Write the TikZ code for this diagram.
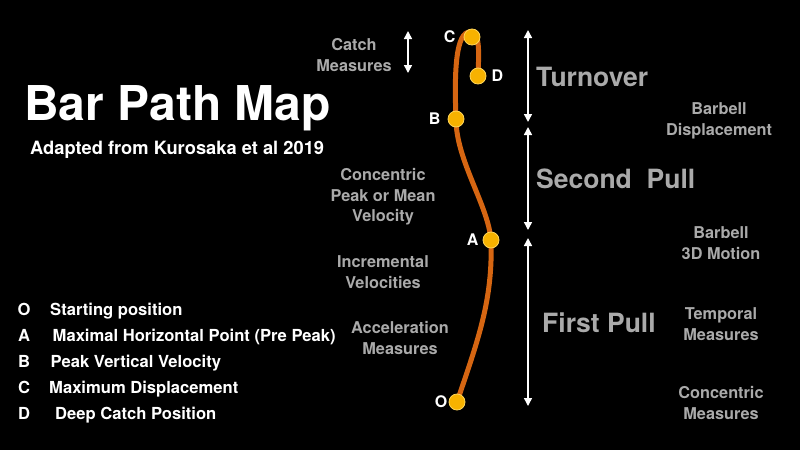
\documentclass[tikz,border=0pt]{standalone}
\usepackage{fontspec}
\setmainfont{TeX Gyre Heros}
\usetikzlibrary{arrows.meta,positioning}
\definecolor{barline}{RGB}{214,102,18}
\definecolor{dotfill}{RGB}{247,178,0}
\definecolor{dotrim}{RGB}{255,214,90}
\definecolor{metricgray}{RGB}{170,170,170}
\tikzset{
    pathdot/.style={circle,fill=dotfill,draw=dotrim,line width=0.8pt,minimum size=16pt,inner sep=0pt},
    ptlabel/.style={text=white,inner sep=0pt,font=\bfseries\fontsize{16}{16}\selectfont},
    metric/.style={text=metricgray,inner sep=0pt,align=center,font=\bfseries\fontsize{16.3}{20.5}\selectfont},
    phase/.style={text=metricgray,inner sep=0pt,anchor=base west,font=\bfseries\fontsize{26.5}{26.5}\selectfont},
    keyletter/.style={text=white,inner sep=0pt,anchor=base,font=\bfseries\fontsize{16.6}{16.6}\selectfont},
    keytext/.style={text=white,inner sep=0pt,anchor=base west,font=\bfseries\fontsize{16.6}{16.6}\selectfont},
    spanarrow/.style={white,line width=1.5pt,{Triangle[length=8pt,width=8pt]}-{Triangle[length=8pt,width=8pt]}}
}
\begin{document}
\begin{tikzpicture}[x=1pt,y=-1pt]
    \fill[black] (0,0) rectangle (800,450);
    \useasboundingbox (0,0) rectangle (800,450);
    \coordinate (catchtop) at (408,31);
    \coordinate (catchbot) at (408,73);
    \coordinate (turntop) at (528,30);
    \coordinate (turnbot) at (528,122);
    \coordinate (secondtop) at (528,127);
    \coordinate (secondbot) at (528,230);
    \coordinate (firsttop) at (528,238);
    \coordinate (firstbot) at (528,406);
    \coordinate (pO) at (457,402);
    \coordinate (pA) at (491,240);
    \coordinate (pB) at (456,119);
    \coordinate (pC) at (472,37);
    \coordinate (pD) at (478,76);
    \coordinate (top) at (470,32);
    \draw[barline,line width=5pt,line cap=round] (pO) .. controls (478,340) and (493,300) .. (pA)
        .. controls (488,205) and (456,160) .. (pB)
        .. controls (454,70) and (456,32) .. (top)
        .. controls (480,32) and (479,50) .. (pD);
    \node[pathdot] (dO) at (pO) {};
    \node[pathdot] (dA) at (pA) {};
    \node[pathdot] (dB) at (pB) {};
    \node[pathdot] (dC) at (pC) {};
    \node[pathdot] (dD) at (pD) {};
    \node[ptlabel,left=8pt of dC] (lblC) {C};
    \node[ptlabel,right=5pt of dD] (lblD) {D};
    \node[ptlabel,left=7pt of dB] (lblB) {B};
    \node[ptlabel,left=4pt of dA] (lblA) {A};
    \node[ptlabel,left=1pt of dO] (lblO) {O};
    \draw[spanarrow] (catchtop) -- (catchbot);
    \draw[spanarrow] (turntop) -- (turnbot);
    \draw[spanarrow] (secondtop) -- (secondbot);
    \draw[spanarrow] (firsttop) -- (firstbot);
    \node[phase] (turnover) at (536,86) {Turnover};
    \node[phase] (secondpull) at (536,188) {Second~~Pull};
    \node[phase] (firstpull) at (542,332) {First Pull};
    \node[metric] (catch) at (354,55) {Catch\\Measures};
    \node[metric] (peakvel) at (383,197) {Concentric\\Peak or Mean\\Velocity};
    \node[metric] (incvel) at (383,272) {Incremental\\Velocities};
    \node[metric] (accel) at (400,338) {Acceleration\\Measures};
    \node[metric] (displace) at (719,121) {Barbell\\Displacement};
    \node[metric] (motion) at (721,243) {Barbell\\3D Motion};
    \node[metric] (temporal) at (721,324) {Temporal\\Measures};
    \node[metric] (concentric) at (721,403) {Concentric\\Measures};
    \node[text=white,inner sep=0pt,anchor=base west,font=\bfseries\fontsize{48}{48}\selectfont] (title) at (24,120) {Bar Path Map};
    \node[text=white,inner sep=0pt,anchor=base west,font=\bfseries\fontsize{18.3}{18.3}\selectfont] (source) at (30,154) {Adapted from Kurosaka et al 2019};
    \node[keyletter] (keyO) at (24,315) {O};
    \node[keyletter] (keyA) at (24,341) {A};
    \node[keyletter] (keyB) at (24,367) {B};
    \node[keyletter] (keyC) at (24,393) {C};
    \node[keyletter] (keyD) at (24,419) {D};
    \node[keytext] (txtO) at (50,315) {Starting position};
    \node[keytext] (txtA) at (52.5,341) {Maximal Horizontal Point (Pre Peak)};
    \node[keytext] (txtB) at (50.5,367) {Peak Vertical Velocity};
    \node[keytext] (txtC) at (49,393) {Maximum Displacement};
    \node[keytext] (txtD) at (55,419) {Deep Catch Position};
\end{tikzpicture}
\end{document}
